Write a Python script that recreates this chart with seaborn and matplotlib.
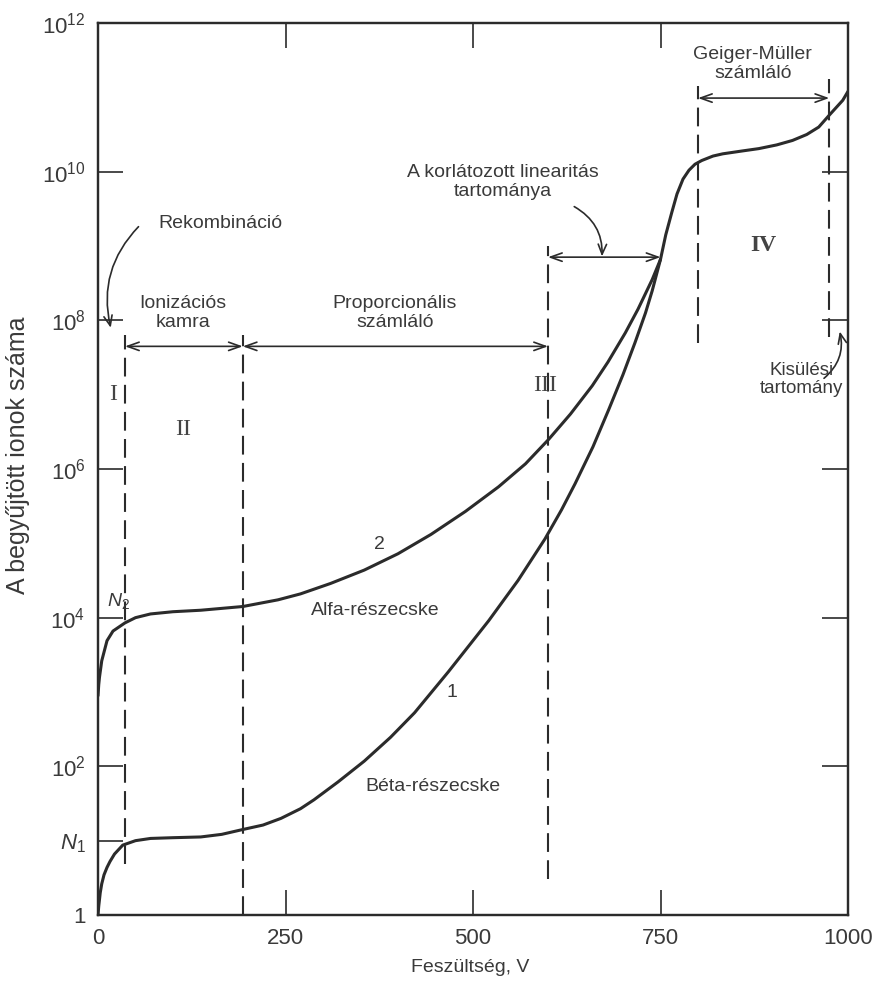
import numpy as np
import pandas as pd
import matplotlib
matplotlib.use('Agg')
import matplotlib.pyplot as plt
import seaborn as sns

beta_volt = [0, 1, 3, 5, 8, 12, 16, 22, 33, 50, 70, 100, 137, 165, 193, 220, 244,
             270, 288, 320, 355, 390, 422, 467, 521, 560, 596, 618, 636, 660, 681,
             700, 716, 730, 739, 750]
beta_log = [0.0, 0.12, 0.3, 0.42, 0.54, 0.64, 0.72, 0.82, 0.94, 1.0, 1.03, 1.04, 1.05,
            1.085, 1.15, 1.21, 1.3, 1.43, 1.55, 1.79, 2.07, 2.39, 2.72, 3.27, 3.96,
            4.5, 5.06, 5.45, 5.8, 6.3, 6.8, 7.27, 7.7, 8.1, 8.4, 8.82]

alpha_volt = [0, 1, 2, 5, 12, 20, 36, 50, 70, 100, 137, 193, 240, 270, 310, 355,
              400, 444, 490, 534, 570, 601, 630, 659, 680, 703, 720, 739, 750]
alpha_log = [2.95, 3.1, 3.2, 3.42, 3.69, 3.82, 3.93, 4.0, 4.05, 4.08, 4.1, 4.15,
             4.24, 4.32, 4.46, 4.64, 4.86, 5.12, 5.43, 5.76, 6.07, 6.4, 6.74, 7.12,
             7.44, 7.83, 8.15, 8.55, 8.82]

# both curves run together above ~750 V
common_volt = [750, 757, 765, 772, 780, 788, 796, 805, 820, 833, 860, 881, 905, 926,
               945, 961, 975, 993, 1000]
common_log = [8.82, 9.15, 9.45, 9.7, 9.9, 10.02, 10.1, 10.15, 10.21, 10.24, 10.28,
              10.31, 10.36, 10.42, 10.5, 10.6, 10.76, 10.96, 11.08]

# region borders (dashed): voltage, log10 of lower and upper end
border_volt = [36, 193, 600, 800, 975]
border_lo = [0.68, 0.0, 0.49, 7.7, 7.77]
border_hi = [7.8, 7.8, 9.0, 11.15, 11.25]

# double arrows marking the ranges
span_from = [36, 193, 600, 800]
span_to = [193, 600, 750, 975]
span_level = [7.65, 7.65, 8.85, 10.99]

ytick_exp = [0, 1, 2, 4, 6, 8, 10, 12]
ytick_labels = ['1', '$N_1$', '$10^2$', '$10^4$', '$10^6$', '$10^8$', '$10^{10}$', '$10^{12}$']
right_tick_exp = [2, 4, 6, 8, 10]
xticks = [0, 250, 500, 750, 1000]

ink = '#2b2b2b'
txt = '#3a3a3a'

sns.set_theme(style='ticks')
plt.rcParams['font.family'] = ['Liberation Sans', 'DejaVu Sans']
plt.rcParams['mathtext.fontset'] = 'custom'
plt.rcParams['mathtext.rm'] = 'Liberation Sans'
plt.rcParams['mathtext.it'] = 'Liberation Sans:italic'

beta = pd.DataFrame({'volt': beta_volt + common_volt[1:],
                     'ions': 10.0 ** np.array(beta_log + common_log[1:])})
alpha = pd.DataFrame({'volt': alpha_volt, 'ions': 10.0 ** np.array(alpha_log)})

fig = plt.figure(figsize=(8.73, 9.86), dpi=100)
ax = fig.add_axes([98 / 873, 1 - 915 / 986, 750 / 873, 892 / 986])

sns.lineplot(data=beta, x='volt', y='ions', ax=ax, color=ink, linewidth=2.2,
             estimator=None, sort=False, solid_joinstyle='round')
sns.lineplot(data=alpha, x='volt', y='ions', ax=ax, color=ink, linewidth=2.2,
             estimator=None, sort=False, solid_joinstyle='round')

ax.set_yscale('log')
ax.set_xlim(0, 1000)
ax.set_ylim(1, 1e12)

for v, lo, hi in zip(border_volt, border_lo, border_hi):
    ax.plot([v, v], [10 ** lo, 10 ** hi], color=ink, linewidth=1.5,
            dashes=(9, 4))

for a, b, lv in zip(span_from, span_to, span_level):
    ax.annotate('', xy=(b, 10 ** lv), xytext=(a, 10 ** lv),
                arrowprops=dict(arrowstyle='<->,head_length=0.7,head_width=0.25',
                                color=ink, lw=1.2, shrinkA=0, shrinkB=0))

# labels with curved pointers
ax.annotate('', xy=(17, 10 ** 7.9), xytext=(54, 10 ** 9.26),
            arrowprops=dict(arrowstyle='->,head_length=0.6,head_width=0.25', color=ink,
                            lw=1.2, connectionstyle='arc3,rad=0.27', shrinkA=0, shrinkB=0))
ax.annotate('', xy=(672, 10 ** 8.86), xytext=(635, 10 ** 9.53),
            arrowprops=dict(arrowstyle='->,head_length=0.6,head_width=0.25', color=ink,
                            lw=1.2, connectionstyle='arc3,rad=-0.3', shrinkA=0, shrinkB=0))
ax.annotate('', xy=(989, 10 ** 7.85), xytext=(968, 10 ** 7.22),
            arrowprops=dict(arrowstyle='->,head_length=0.6,head_width=0.25', color=ink,
                            lw=1.2, connectionstyle='arc3,rad=0.3', shrinkA=0, shrinkB=0))

note = dict(color=txt, fontsize=14, ha='center', va='center', linespacing=1.1)
ax.text(163, 10 ** 9.3, 'Rekombináció', **note)
ax.text(113, 10 ** 8.1, 'Ionizációs\nkamra', **note)
ax.text(396, 10 ** 8.1, 'Proporcionális\nszámláló', **note)
ax.text(540, 10 ** 9.86, 'A korlátozott linearitás\ntartománya', **note)
ax.text(873, 10 ** 11.45, 'Geiger-Müller\nszámláló', **note)
ax.text(938, 10 ** 7.2, 'Kisülési\ntartomány', color=txt, fontsize=13.5, ha='center',
        va='center', linespacing=1.1)
ax.text(370, 10 ** 4.09, 'Alfa-részecske', **note)
ax.text(447, 10 ** 1.73, 'Béta-részecske', **note)
ax.text(375, 10 ** 4.98, '2', **note)
ax.text(472, 10 ** 2.99, '1', **note)
ax.text(27, 10 ** 4.22, '$N_2$', color=txt, fontsize=14, ha='center', va='center')

roman = dict(color='#444444', fontsize=17, ha='center', va='center',
             family=['Liberation Serif', 'DejaVu Serif'])
ax.text(20, 10 ** 7.0, 'I', **roman)
ax.text(113, 10 ** 6.53, 'II', **roman)
ax.text(596, 10 ** 7.13, 'III', **roman)
ax.text(887, 10 ** 9.01, 'IV', fontweight='bold', **roman)

ax.set_xticks(xticks)
ax.set_xticklabels([str(t) for t in xticks])
ax.set_yticks([10.0 ** e for e in ytick_exp])
ax.set_yticklabels(ytick_labels)
ax.minorticks_off()
ax.tick_params(axis='both', which='major', direction='in', length=18, width=1.2,
               color=ink, labelcolor=txt, labelsize=16, pad=9, top=True)

ax_r = ax.twinx()
ax_r.set_yscale('log')
ax_r.set_ylim(1, 1e12)
ax_r.set_yticks([10.0 ** e for e in right_tick_exp])
ax_r.minorticks_off()
ax_r.tick_params(axis='y', direction='in', length=19, width=1.2, color=ink,
                 labelright=False)

for a in (ax, ax_r):
    for s in a.spines.values():
        s.set_color(ink)
        s.set_linewidth(1.6)

ax.set_xlabel('')
ax.set_ylabel('')
fig.text(470 / 873, 1 - 968 / 986, 'Feszültség, V', color=txt, fontsize=14,
         ha='center', va='center')
fig.text(18 / 873, 1 - 455 / 986, 'A begyűjtött ionok száma', color=txt, fontsize=18,
         rotation=90, ha='center', va='center')

fig.savefig('out.png', dpi=100, facecolor='white')
